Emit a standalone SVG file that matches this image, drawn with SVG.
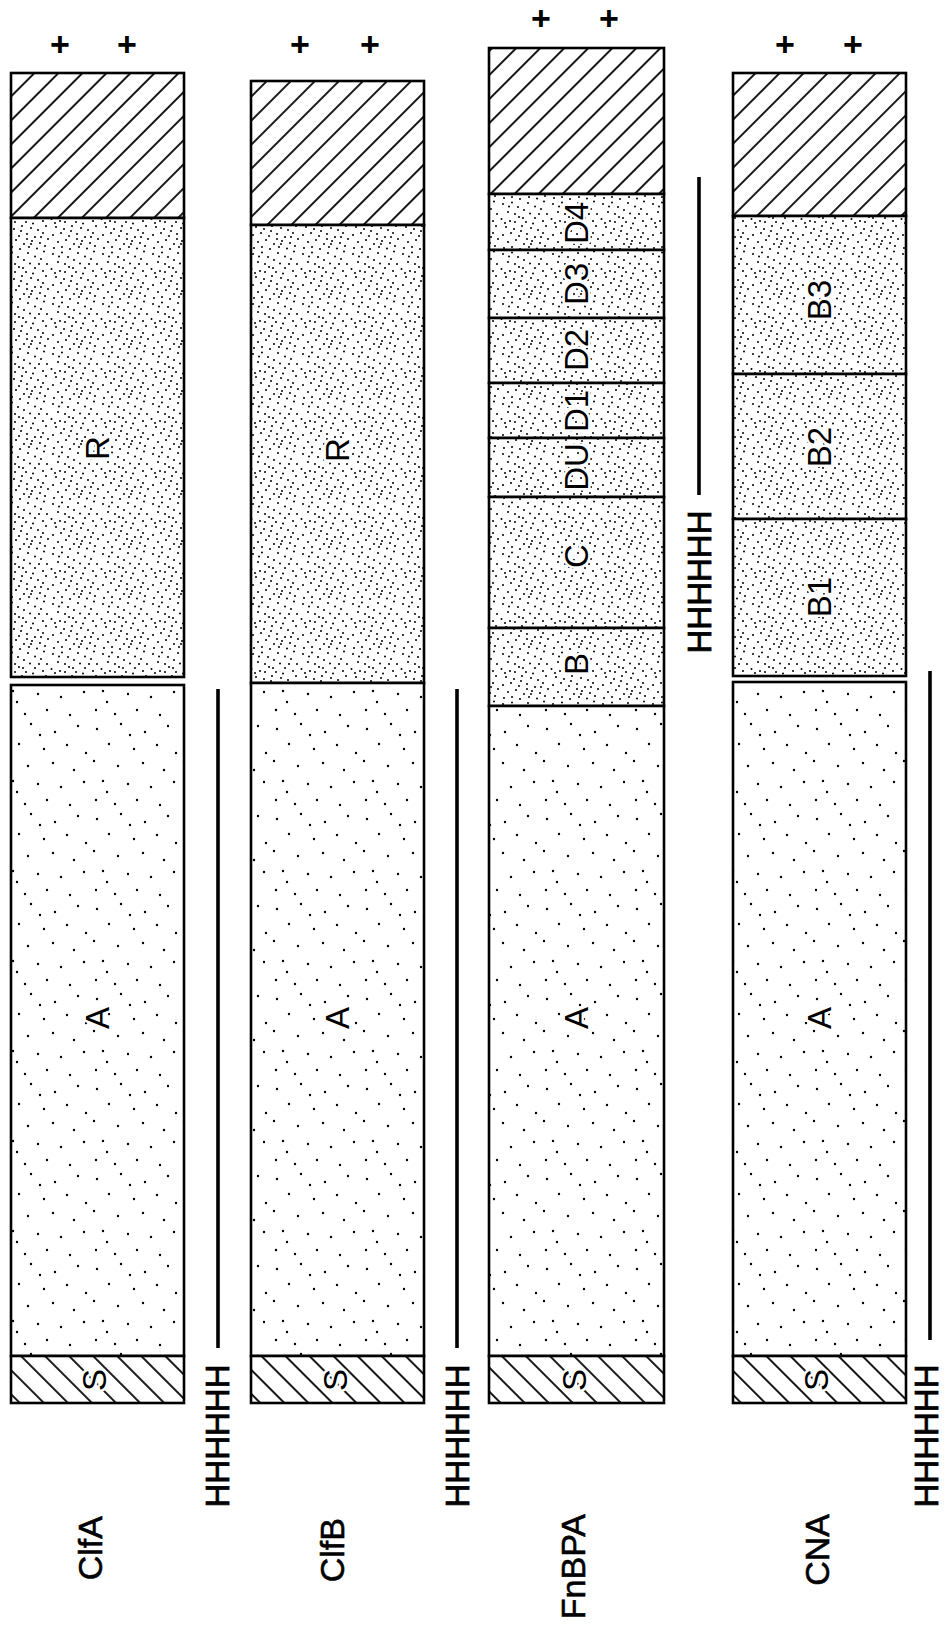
<svg xmlns="http://www.w3.org/2000/svg" width="948" height="1626" viewBox="0 0 948 1626">
<style>
.box{stroke:#000;stroke-width:2.6}
.hatch{fill:url(#hatchF)}
.shatch{fill:url(#hatchS)}
.dense{fill:url(#dense)}
.sparse{fill:url(#sparse)}
.lbl{font-family:"Liberation Sans",Arial,sans-serif;font-size:33px;fill:#000;text-anchor:middle;stroke:#fff;stroke-width:5px;paint-order:stroke;stroke-linejoin:round}
.name{font-family:"Liberation Sans",Arial,sans-serif;font-size:34px;fill:#000;stroke:#000;stroke-width:0.6px;text-anchor:end}
.hh{font-family:"Liberation Sans",Arial,sans-serif;font-size:33px;fill:#000;stroke:#000;stroke-width:0.8px;text-anchor:middle}
.plus{font-family:"Liberation Sans",Arial,sans-serif;font-size:34px;font-weight:bold;fill:#000;text-anchor:middle}
.ln{stroke:#000;stroke-width:3.6;fill:none}
</style>
<defs>
<pattern id="hatchF" width="17" height="17" patternUnits="userSpaceOnUse" patternTransform="rotate(45)">
<rect width="17" height="17" fill="#fff"/>
<line x1="8" y1="0" x2="8" y2="17" stroke="#000" stroke-width="1.8"/>
</pattern>
<pattern id="hatchS" width="17" height="17" patternUnits="userSpaceOnUse" patternTransform="rotate(-45)">
<rect width="17" height="17" fill="#fff"/>
<line x1="8" y1="0" x2="8" y2="17" stroke="#000" stroke-width="1.8"/>
</pattern>
<pattern id="dense" width="50" height="50" patternUnits="userSpaceOnUse">
<rect width="50" height="50" fill="#fff"/>
<g fill="#000">
<circle cx="3" cy="4" r="1"/><circle cx="12" cy="2.5" r="1"/><circle cx="18" cy="7" r="1"/><circle cx="28" cy="3" r="1"/><circle cx="35" cy="6.5" r="1"/><circle cx="44" cy="1.5" r="1"/>
<circle cx="8" cy="12" r="1"/><circle cx="15" cy="14" r="1"/><circle cx="24" cy="10" r="1"/><circle cx="30" cy="13.5" r="1"/><circle cx="41" cy="9" r="1"/><circle cx="47" cy="14" r="1"/>
<circle cx="1.5" cy="19" r="1"/><circle cx="10" cy="21" r="1"/><circle cx="19" cy="17" r="1"/><circle cx="26" cy="22" r="1"/><circle cx="35" cy="18" r="1"/><circle cx="43" cy="21" r="1"/>
<circle cx="6" cy="27" r="1"/><circle cx="14" cy="29" r="1"/><circle cx="22" cy="26" r="1"/><circle cx="31" cy="28" r="1"/><circle cx="38" cy="30" r="1"/><circle cx="46" cy="26" r="1"/>
<circle cx="3" cy="35" r="1"/><circle cx="11" cy="33" r="1"/><circle cx="19" cy="36" r="1"/><circle cx="27" cy="34" r="1"/><circle cx="35" cy="37" r="1"/><circle cx="43" cy="33" r="1"/>
<circle cx="8" cy="42" r="1"/><circle cx="16" cy="40" r="1"/><circle cx="24" cy="44" r="1"/><circle cx="32" cy="41" r="1"/><circle cx="40" cy="43" r="1"/><circle cx="48" cy="39" r="1"/>
<circle cx="4" cy="48" r="1"/><circle cx="12" cy="47" r="1"/><circle cx="20" cy="49" r="1"/><circle cx="29" cy="47" r="1"/><circle cx="37" cy="48.5" r="1"/><circle cx="45" cy="46" r="1"/>
<circle cx="21" cy="31" r="1"/><circle cx="33" cy="23.5" r="1"/><circle cx="9" cy="6.5" r="1"/><circle cx="39" cy="14" r="1"/><circle cx="5" cy="23" r="1"/><circle cx="27" cy="39" r="1"/>
<circle cx="15" cy="22" r="1"/><circle cx="41" cy="37" r="1"/><circle cx="23" cy="18" r="1"/><circle cx="31" cy="44" r="1"/>
</g>
</pattern>
<pattern id="sparse" width="90" height="90" patternUnits="userSpaceOnUse">
<rect width="90" height="90" fill="#fff"/>
<g fill="#000">
<circle cx="7" cy="9" r="1.2"/><circle cx="31" cy="4" r="1.2"/><circle cx="55" cy="12" r="1.2"/><circle cx="78" cy="6" r="1.2"/>
<circle cx="19" cy="24" r="1.2"/><circle cx="44" cy="29" r="1.2"/><circle cx="67" cy="25" r="1.2"/><circle cx="86" cy="33" r="1.2"/>
<circle cx="4" cy="41" r="1.2"/><circle cx="28" cy="46" r="1.2"/><circle cx="53" cy="43" r="1.2"/><circle cx="74" cy="50" r="1.2"/>
<circle cx="13" cy="61" r="1.2"/><circle cx="38" cy="64" r="1.2"/><circle cx="61" cy="67" r="1.2"/><circle cx="84" cy="62" r="1.2"/>
<circle cx="6" cy="80" r="1.2"/><circle cx="25" cy="84" r="1.2"/><circle cx="47" cy="80" r="1.2"/><circle cx="70" cy="85" r="1.2"/>
<circle cx="40" cy="15" r="1.2"/><circle cx="17" cy="72" r="1.2"/>
</g>
</pattern>
</defs>
<rect width="948" height="1626" fill="#fff"/>

<g id="ClfA">
<rect class="box hatch" x="11" y="73" width="173" height="145"/>
<rect class="box dense" x="11" y="218" width="173" height="459"/>
<rect class="box sparse" x="11" y="685" width="173" height="671"/>
<rect class="box shatch" x="11" y="1356" width="173" height="47"/>
<text class="lbl" transform="translate(97,448) rotate(-90)" dy="0.36em">R</text>
<text class="lbl" transform="translate(97,1018) rotate(-90)" dy="0.36em">A</text>
<text class="lbl" transform="translate(94,1380) rotate(-90)" dy="0.36em">S</text>
<text class="plus" x="60" y="56">+</text>
<text class="plus" x="127" y="56">+</text>
<text class="name" transform="translate(90,1516) rotate(-90)" dy="0.36em">ClfA</text>
</g>

<g id="ClfB">
<rect class="box hatch" x="251" y="81" width="173" height="144"/>
<rect class="box dense" x="251" y="225" width="173" height="458"/>
<rect class="box sparse" x="251" y="683" width="173" height="673"/>
<rect class="box shatch" x="251" y="1356" width="173" height="47"/>
<text class="lbl" transform="translate(337,450) rotate(-90)" dy="0.36em">R</text>
<text class="lbl" transform="translate(337,1018) rotate(-90)" dy="0.36em">A</text>
<text class="lbl" transform="translate(335,1380) rotate(-90)" dy="0.36em">S</text>
<text class="plus" x="300" y="56">+</text>
<text class="plus" x="370" y="56">+</text>
<text class="name" transform="translate(332,1518) rotate(-90)" dy="0.36em">ClfB</text>
</g>

<g id="FnBPA">
<rect class="box hatch" x="489" y="48" width="175" height="146"/>
<rect class="box dense" x="489" y="194" width="175" height="56"/>
<rect class="box dense" x="489" y="250" width="175" height="68"/>
<rect class="box dense" x="489" y="318" width="175" height="65"/>
<rect class="box dense" x="489" y="383" width="175" height="55"/>
<rect class="box dense" x="489" y="438" width="175" height="59"/>
<rect class="box dense" x="489" y="497" width="175" height="131"/>
<rect class="box dense" x="489" y="628" width="175" height="78"/>
<rect class="box sparse" x="489" y="706" width="175" height="650"/>
<rect class="box shatch" x="489" y="1356" width="175" height="47"/>
<text class="lbl" transform="translate(576,223) rotate(-90)" dy="0.36em">D4</text>
<text class="lbl" transform="translate(576,284) rotate(-90)" dy="0.36em">D3</text>
<text class="lbl" transform="translate(576,350) rotate(-90)" dy="0.36em">D2</text>
<text class="lbl" transform="translate(576,411) rotate(-90)" dy="0.36em">D1</text>
<text class="lbl" transform="translate(576,467) rotate(-90)" dy="0.36em">DU</text>
<text class="lbl" transform="translate(576,556) rotate(-90)" dy="0.36em">C</text>
<text class="lbl" transform="translate(576,664) rotate(-90)" dy="0.36em">B</text>
<text class="lbl" transform="translate(576,1018) rotate(-90)" dy="0.36em">A</text>
<text class="lbl" transform="translate(574,1380) rotate(-90)" dy="0.36em">S</text>
<text class="plus" x="541" y="30">+</text>
<text class="plus" x="609" y="30">+</text>
<text class="name" transform="translate(573,1514) rotate(-90)" dy="0.36em">FnBPA</text>
</g>

<g id="CNA">
<rect class="box hatch" x="733" y="73" width="173" height="143"/>
<rect class="box dense" x="733" y="216" width="173" height="158"/>
<rect class="box dense" x="733" y="374" width="173" height="145"/>
<rect class="box dense" x="733" y="519" width="173" height="157"/>
<rect class="box sparse" x="733" y="682" width="173" height="674"/>
<rect class="box shatch" x="733" y="1356" width="173" height="47"/>
<text class="lbl" transform="translate(819,300) rotate(-90)" dy="0.36em">B3</text>
<text class="lbl" transform="translate(819,447) rotate(-90)" dy="0.36em">B2</text>
<text class="lbl" transform="translate(819,597) rotate(-90)" dy="0.36em">B1</text>
<text class="lbl" transform="translate(819,1018) rotate(-90)" dy="0.36em">A</text>
<text class="lbl" transform="translate(816,1380) rotate(-90)" dy="0.36em">S</text>
<text class="plus" x="785" y="56">+</text>
<text class="plus" x="853" y="56">+</text>
<text class="name" transform="translate(817,1514) rotate(-90)" dy="0.36em">CNA</text>
</g>

<g id="connectors">
<line class="ln" x1="218" y1="689" x2="218" y2="1348"/>
<text class="hh" transform="translate(217,1436) rotate(-90)" dy="0.36em">HHHHHH</text>
<line class="ln" x1="457" y1="689" x2="457" y2="1348"/>
<text class="hh" transform="translate(457,1436) rotate(-90)" dy="0.36em">HHHHHH</text>
<line class="ln" x1="699" y1="177" x2="699" y2="495"/>
<text class="hh" transform="translate(699,582) rotate(-90)" dy="0.36em">HHHHHH</text>
<line class="ln" x1="930" y1="671" x2="930" y2="1340"/>
<text class="hh" transform="translate(926,1436) rotate(-90)" dy="0.36em">HHHHHH</text>
</g>
</svg>
